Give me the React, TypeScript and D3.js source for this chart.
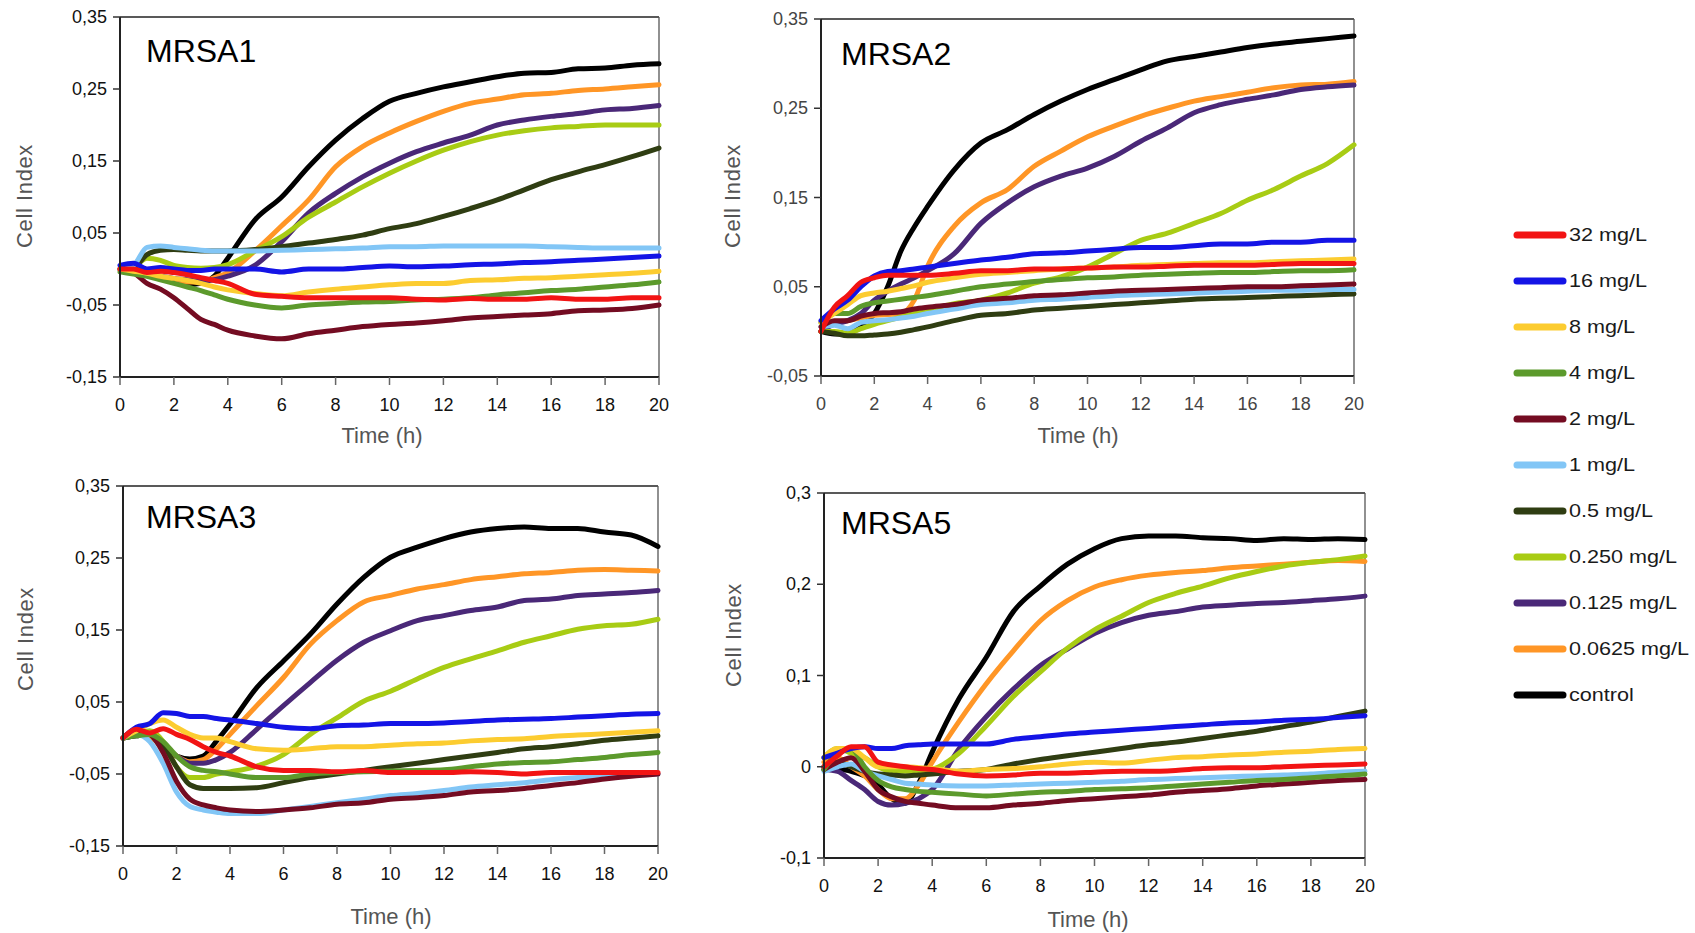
import * as d3 from 'd3'

// sampling times (h), shared by every curve
const TIME = [0, 0.5, 1, 1.5, 2, 2.5, 3, 3.5, 4, 5, 6, 7, 8, 9, 10, 11, 12, 13, 14, 15, 16, 17, 18, 19, 20]

const SERIES = ['32 mg/L', '16 mg/L', '8 mg/L', '4 mg/L', '2 mg/L', '1 mg/L', '0.5 mg/L', '0.250 mg/L', '0.125 mg/L', '0.0625 mg/L', 'control']
const COLORS = ['#f21414', '#1414e6', '#fccc30', '#5c9a2c', '#740c22', '#82c6f6', '#2f3d12', '#a8cc14', '#4a2878', '#ff9626', '#000000']

const X_TICKS = [0, 2, 4, 6, 8, 10, 12, 14, 16, 18, 20]
const Y_TICKS_A = [-0.15, -0.05, 0.05, 0.15, 0.25, 0.35]
const Y_TICKS_B = [-0.05, 0.05, 0.15, 0.25, 0.35]
const Y_TICKS_C = [-0.1, 0, 0.1, 0.2, 0.3]

// MRSA1
const M1_32 = [0, 0, -0.005, -0.003, -0.005, -0.008, -0.012, -0.016, -0.02, -0.035, -0.038, -0.04, -0.04, -0.04, -0.04, -0.042, -0.043, -0.041, -0.042, -0.042, -0.04, -0.042, -0.042, -0.04, -0.04]
const M1_16 = [0.005, 0.008, 0, 0.002, 0, -0.002, -0.002, 0, 0, 0, -0.004, 0, 0, 0.002, 0.004, 0.003, 0.004, 0.006, 0.007, 0.009, 0.01, 0.012, 0.014, 0.016, 0.018]
const M1_8 = [0, -0.003, -0.006, -0.01, -0.013, -0.016, -0.02, -0.025, -0.029, -0.034, -0.037, -0.032, -0.028, -0.025, -0.022, -0.02, -0.02, -0.016, -0.015, -0.013, -0.012, -0.01, -0.008, -0.006, -0.003]
const M1_4 = [-0.004, -0.007, -0.01, -0.015, -0.02, -0.025, -0.03, -0.036, -0.042, -0.05, -0.054, -0.05, -0.048, -0.046, -0.045, -0.043, -0.042, -0.04, -0.036, -0.033, -0.03, -0.028, -0.025, -0.022, -0.018]
const M1_2 = [0, -0.005, -0.02, -0.028, -0.04, -0.055, -0.07, -0.077, -0.085, -0.093, -0.097, -0.09, -0.085, -0.08, -0.077, -0.075, -0.072, -0.068, -0.066, -0.064, -0.062, -0.058, -0.057, -0.055, -0.05]
const M1_1 = [0, 0.005, 0.03, 0.032, 0.03, 0.028, 0.026, 0.025, 0.025, 0.025, 0.026, 0.027, 0.028, 0.029, 0.031, 0.031, 0.032, 0.032, 0.032, 0.032, 0.031, 0.03, 0.029, 0.029, 0.029]
const M1_05 = [0, 0.002, 0.02, 0.026, 0.027, 0.026, 0.025, 0.025, 0.025, 0.027, 0.031, 0.036, 0.041, 0.047, 0.056, 0.063, 0.073, 0.084, 0.096, 0.11, 0.124, 0.135, 0.145, 0.156, 0.168]
const M1_025 = [0, 0.003, 0.015, 0.012, 0.005, 0.002, 0.001, 0.002, 0.006, 0.025, 0.045, 0.072, 0.093, 0.114, 0.133, 0.15, 0.165, 0.177, 0.186, 0.192, 0.196, 0.198, 0.2, 0.2, 0.2]
const M1_0125 = [0, -0.003, -0.008, -0.01, -0.013, -0.015, -0.017, -0.015, -0.01, 0.005, 0.038, 0.078, 0.105, 0.128, 0.147, 0.163, 0.175, 0.186, 0.2, 0.207, 0.212, 0.216, 0.221, 0.223, 0.227]
const M1_00625 = [0, -0.003, -0.006, -0.01, -0.015, -0.018, -0.018, -0.012, -0.005, 0.025, 0.06, 0.096, 0.142, 0.17, 0.189, 0.205, 0.219, 0.23, 0.236, 0.242, 0.244, 0.248, 0.25, 0.253, 0.256]
const M1_CTRL = [0, -0.003, -0.008, -0.012, -0.018, -0.022, -0.02, -0.01, 0.015, 0.068, 0.1, 0.142, 0.179, 0.209, 0.233, 0.244, 0.253, 0.26, 0.267, 0.272, 0.273, 0.278, 0.279, 0.283, 0.285]

// MRSA2
const M2_32 = [0, 0.027, 0.04, 0.055, 0.06, 0.063, 0.063, 0.063, 0.063, 0.065, 0.068, 0.068, 0.07, 0.07, 0.071, 0.072, 0.072, 0.073, 0.074, 0.074, 0.074, 0.075, 0.076, 0.076, 0.076]
const M2_16 = [0.012, 0.025, 0.035, 0.05, 0.062, 0.067, 0.068, 0.07, 0.072, 0.076, 0.08, 0.083, 0.087, 0.088, 0.09, 0.092, 0.094, 0.094, 0.096, 0.098, 0.098, 0.1, 0.1, 0.102, 0.102]
const M2_8 = [0.01, 0.02, 0.03, 0.04, 0.043, 0.045, 0.048, 0.051, 0.055, 0.06, 0.064, 0.066, 0.068, 0.07, 0.071, 0.072, 0.074, 0.075, 0.076, 0.077, 0.077, 0.078, 0.079, 0.08, 0.081]
const M2_4 = [0.01, 0.02, 0.02, 0.028, 0.032, 0.034, 0.036, 0.038, 0.04, 0.045, 0.05, 0.053, 0.056, 0.058, 0.06, 0.061, 0.063, 0.064, 0.065, 0.066, 0.066, 0.067, 0.068, 0.068, 0.069]
const M2_2 = [0.005, 0.012, 0.012, 0.017, 0.02, 0.021, 0.022, 0.025, 0.027, 0.03, 0.035, 0.037, 0.04, 0.041, 0.043, 0.045, 0.046, 0.047, 0.048, 0.049, 0.05, 0.05, 0.051, 0.052, 0.053]
const M2_1 = [0.005, 0.007, 0.003, 0.01, 0.012, 0.013, 0.015, 0.017, 0.02, 0.025, 0.03, 0.032, 0.035, 0.036, 0.038, 0.04, 0.041, 0.042, 0.043, 0.044, 0.045, 0.046, 0.046, 0.047, 0.047]
const M2_05 = [0, -0.002, -0.005, -0.005, -0.004, -0.003, -0.001, 0.002, 0.005, 0.012, 0.018, 0.02, 0.024, 0.026, 0.028, 0.03, 0.032, 0.034, 0.036, 0.037, 0.038, 0.039, 0.04, 0.041, 0.042]
const M2_025 = [0, 0, -0.002, 0.003, 0.008, 0.012, 0.016, 0.02, 0.024, 0.031, 0.035, 0.043, 0.054, 0.061, 0.072, 0.087, 0.102, 0.11, 0.121, 0.132, 0.147, 0.159, 0.174, 0.188, 0.209]
const M2_0125 = [0, 0.008, 0.012, 0.02, 0.035, 0.045, 0.053, 0.06, 0.068, 0.087, 0.121, 0.144, 0.162, 0.174, 0.183, 0.196, 0.213, 0.228, 0.245, 0.254, 0.26, 0.265, 0.271, 0.274, 0.276]
const M2_00625 = [0, 0.01, 0.012, 0.015, 0.018, 0.019, 0.02, 0.035, 0.073, 0.118, 0.144, 0.159, 0.185, 0.202, 0.218, 0.23, 0.241, 0.25, 0.258, 0.263, 0.268, 0.273, 0.276, 0.277, 0.28]
const M2_CTRL = [0, -0.003, -0.002, 0.005, 0.02, 0.05, 0.09, 0.117, 0.14, 0.181, 0.211, 0.226, 0.243, 0.258, 0.271, 0.282, 0.293, 0.303, 0.308, 0.313, 0.318, 0.322, 0.325, 0.328, 0.331]

// MRSA3
const M3_32 = [0, 0.012, 0.007, 0.013, 0.005, -0.002, -0.012, -0.02, -0.025, -0.04, -0.045, -0.045, -0.047, -0.045, -0.048, -0.048, -0.048, -0.047, -0.048, -0.05, -0.048, -0.048, -0.048, -0.048, -0.048]
const M3_16 = [0, 0.015, 0.02, 0.035, 0.034, 0.03, 0.03, 0.027, 0.025, 0.02, 0.015, 0.013, 0.017, 0.018, 0.02, 0.02, 0.021, 0.023, 0.025, 0.026, 0.027, 0.029, 0.031, 0.033, 0.034]
const M3_8 = [0, 0.01, 0.02, 0.025, 0.015, 0.005, 0, 0, -0.005, -0.015, -0.017, -0.015, -0.012, -0.012, -0.01, -0.008, -0.007, -0.004, -0.002, -0.001, 0.002, 0.004, 0.006, 0.008, 0.01]
const M3_4 = [0, 0.003, 0.005, -0.005, -0.025, -0.04, -0.045, -0.047, -0.05, -0.055, -0.055, -0.05, -0.048, -0.047, -0.046, -0.045, -0.044, -0.04, -0.036, -0.034, -0.033, -0.03, -0.027, -0.023, -0.02]
const M3_2 = [0, 0.01, 0.005, -0.02, -0.06, -0.085, -0.093, -0.097, -0.1, -0.102, -0.1, -0.097, -0.092, -0.09, -0.085, -0.083, -0.08, -0.075, -0.073, -0.07, -0.066, -0.062, -0.057, -0.053, -0.05]
const M3_1 = [0, 0.005, -0.005, -0.035, -0.075, -0.095, -0.1, -0.103, -0.105, -0.105, -0.1, -0.095, -0.09, -0.085, -0.08, -0.077, -0.073, -0.068, -0.065, -0.062, -0.058, -0.055, -0.053, -0.052, -0.05]
const M3_05 = [0, 0.003, 0.005, -0.01, -0.04, -0.065, -0.07, -0.07, -0.07, -0.069, -0.062, -0.055, -0.05, -0.045, -0.04, -0.035, -0.03, -0.025, -0.02, -0.015, -0.012, -0.008, -0.003, 0, 0.003]
const M3_025 = [0, 0.005, 0.01, -0.005, -0.04, -0.055, -0.055, -0.05, -0.047, -0.039, -0.023, 0.005, 0.028, 0.051, 0.065, 0.082, 0.098, 0.11, 0.121, 0.133, 0.142, 0.151, 0.156, 0.158, 0.165]
const M3_0125 = [0, 0.003, 0.005, -0.01, -0.025, -0.035, -0.035, -0.03, -0.02, 0.012, 0.045, 0.077, 0.108, 0.133, 0.149, 0.163, 0.17, 0.177, 0.182, 0.191, 0.193, 0.198, 0.2, 0.202, 0.205]
const M3_00625 = [0, 0.005, 0, -0.01, -0.025, -0.033, -0.03, -0.015, 0.005, 0.045, 0.084, 0.13, 0.163, 0.189, 0.198, 0.207, 0.213, 0.22, 0.224, 0.228, 0.23, 0.233, 0.234, 0.233, 0.232]
const M3_CTRL = [0, 0.01, 0.005, -0.01, -0.025, -0.029, -0.025, -0.004, 0.019, 0.07, 0.107, 0.144, 0.186, 0.223, 0.251, 0.265, 0.277, 0.286, 0.291, 0.293, 0.291, 0.291, 0.286, 0.282, 0.266]

// MRSA5
const M5_32 = [0, 0.012, 0.022, 0.022, 0.005, 0.002, 0, -0.002, -0.003, -0.008, -0.01, -0.009, -0.007, -0.007, -0.006, -0.005, -0.005, -0.004, -0.002, -0.001, -0.001, 0, 0.001, 0.002, 0.003]
const M5_16 = [0.01, 0.015, 0.02, 0.022, 0.02, 0.02, 0.023, 0.024, 0.025, 0.025, 0.025, 0.03, 0.033, 0.036, 0.038, 0.04, 0.042, 0.044, 0.046, 0.048, 0.049, 0.051, 0.052, 0.054, 0.056]
const M5_8 = [0.01, 0.02, 0.02, 0.01, 0, 0, 0, -0.001, -0.002, -0.005, -0.003, -0.002, 0, 0.003, 0.005, 0.004, 0.007, 0.01, 0.011, 0.013, 0.014, 0.016, 0.017, 0.019, 0.02]
const M5_4 = [-0.003, 0.015, 0.02, 0, -0.015, -0.022, -0.025, -0.027, -0.028, -0.03, -0.032, -0.03, -0.028, -0.027, -0.025, -0.024, -0.023, -0.021, -0.019, -0.017, -0.015, -0.014, -0.012, -0.01, -0.008]
const M5_2 = [-0.003, 0.005, 0.01, -0.005, -0.025, -0.033, -0.038, -0.04, -0.042, -0.045, -0.045, -0.042, -0.04, -0.037, -0.035, -0.033, -0.031, -0.028, -0.026, -0.024, -0.021, -0.019, -0.017, -0.015, -0.014]
const M5_1 = [-0.005, 0, 0.003, -0.005, -0.01, -0.014, -0.018, -0.019, -0.02, -0.021, -0.021, -0.02, -0.019, -0.018, -0.017, -0.016, -0.014, -0.013, -0.012, -0.011, -0.01, -0.009, -0.008, -0.006, -0.005]
const M5_05 = [0, 0.005, 0, -0.005, -0.008, -0.009, -0.01, -0.009, -0.008, -0.005, -0.003, 0.003, 0.008, 0.012, 0.016, 0.02, 0.024, 0.027, 0.031, 0.035, 0.039, 0.044, 0.049, 0.055, 0.061]
const M5_025 = [0.01, 0.02, 0.015, 0.01, 0, -0.005, -0.005, -0.005, -0.003, 0.015, 0.045, 0.077, 0.104, 0.13, 0.15, 0.165, 0.18, 0.19, 0.198, 0.207, 0.214, 0.22, 0.224, 0.227, 0.231]
const M5_0125 = [-0.003, -0.005, -0.015, -0.025, -0.038, -0.042, -0.04, -0.035, -0.025, 0.02, 0.055, 0.085, 0.111, 0.129, 0.146, 0.158, 0.166, 0.17, 0.175, 0.177, 0.179, 0.18, 0.182, 0.184, 0.187]
const M5_00625 = [0.005, 0.01, 0, -0.01, -0.025, -0.035, -0.035, -0.02, 0.005, 0.05, 0.091, 0.127, 0.16, 0.182, 0.197, 0.205, 0.21, 0.213, 0.215, 0.218, 0.22, 0.222, 0.224, 0.226, 0.225]
const M5_CTRL = [0, -0.002, -0.005, -0.01, -0.02, -0.035, -0.04, -0.018, 0.016, 0.075, 0.12, 0.17, 0.198, 0.222, 0.239, 0.25, 0.253, 0.253, 0.251, 0.25, 0.248, 0.25, 0.249, 0.25, 0.249]

const PANELS = [
  {
    name: 'MRSA1',
    series: [M1_32, M1_16, M1_8, M1_4, M1_2, M1_1, M1_05, M1_025, M1_0125, M1_00625, M1_CTRL],
    yTicks: Y_TICKS_A,
    box: { left: 120, right: 659, top: 17, bottom: 377 },
    title: [146, 62], yTitle: [24, 196], xTitle: [382, 436], tickColor: '#111',
  },
  {
    name: 'MRSA2',
    series: [M2_32, M2_16, M2_8, M2_4, M2_2, M2_1, M2_05, M2_025, M2_0125, M2_00625, M2_CTRL],
    yTicks: Y_TICKS_B,
    box: { left: 821, right: 1354, top: 19, bottom: 376 },
    title: [841, 65], yTitle: [732, 196], xTitle: [1078, 436], tickColor: '#444',
  },
  {
    name: 'MRSA3',
    series: [M3_32, M3_16, M3_8, M3_4, M3_2, M3_1, M3_05, M3_025, M3_0125, M3_00625, M3_CTRL],
    yTicks: Y_TICKS_A,
    box: { left: 123, right: 658, top: 486, bottom: 846 },
    title: [146, 528], yTitle: [25, 639], xTitle: [391, 917], tickColor: '#111',
  },
  {
    name: 'MRSA5',
    series: [M5_32, M5_16, M5_8, M5_4, M5_2, M5_1, M5_05, M5_025, M5_0125, M5_00625, M5_CTRL],
    yTicks: Y_TICKS_C,
    box: { left: 824, right: 1365, top: 493, bottom: 858 },
    title: [841, 534], yTitle: [733, 635], xTitle: [1088, 920], tickColor: '#111',
  },
]

const FONT = "'Liberation Sans', Arial, sans-serif"

// decimal comma like the original
const fmt = (v: number) => (Math.abs(v) < 1e-9 ? '0' : String(+v.toFixed(2)).replace('.', ','))

function Panel({ p }: { p: typeof PANELS[number] }) {
  const { left, right, top, bottom } = p.box
  const x = d3.scaleLinear().domain([0, 20]).range([left, right])
  const yExt = d3.extent(p.yTicks) as [number, number]
  const y = d3.scaleLinear().domain(yExt).range([bottom, top])
  const line = d3.line<number>()
    .x((_, i) => x(TIME[i]))
    .y((v) => y(v))
    .curve(d3.curveMonotoneX)

  // draw control first so 32 mg/L ends up on top
  const order = d3.range(SERIES.length).reverse()

  return (
    <g>
      {/* frame */}
      <line x1={left} x2={right} y1={top} y2={top} stroke="#222" strokeWidth={1.3} />
      <line x1={right} x2={right} y1={top} y2={bottom} stroke="#555" strokeWidth={1.3} />

      {order.map((k) => (
        <path
          key={k}
          d={line(p.series[k]) ?? ''}
          fill="none"
          stroke={COLORS[k]}
          strokeWidth={5}
          strokeLinejoin="round"
          strokeLinecap="round"
        />
      ))}

      {/* axes */}
      <line x1={left} x2={left} y1={top} y2={bottom} stroke="#222" strokeWidth={2} />
      <line x1={left} x2={right} y1={bottom} y2={bottom} stroke="#222" strokeWidth={2} />

      {p.yTicks.map((t) => (
        <g key={t}>
          <line x1={left - 7} x2={left} y1={y(t)} y2={y(t)} stroke="#333" strokeWidth={1.5} />
          <text
            x={left - 13} y={y(t) + 6}
            textAnchor="end" fontSize={18} fontFamily={FONT} fill={p.tickColor}
          >
            {fmt(t)}
          </text>
        </g>
      ))}

      {X_TICKS.map((t) => (
        <g key={t}>
          <line x1={x(t)} x2={x(t)} y1={bottom} y2={bottom + 8} stroke="#666" strokeWidth={1.5} />
          <text
            x={x(t)} y={bottom + 34}
            textAnchor="middle" fontSize={18} fontFamily={FONT} fill={p.tickColor}
          >
            {t}
          </text>
        </g>
      ))}

      <text x={p.title[0]} y={p.title[1]} fontSize={32} fontFamily={FONT} fill="#000">
        {p.name}
      </text>
      <text
        x={p.xTitle[0]} y={p.xTitle[1] + 7}
        textAnchor="middle" fontSize={22} fontFamily={FONT} fill="#555"
      >
        Time (h)
      </text>
      <text
        transform={`translate(${p.yTitle[0] + 8},${p.yTitle[1]}) rotate(-90)`}
        textAnchor="middle" fontSize={22} fontFamily={FONT} fill="#555" letterSpacing={0.6}
      >
        Cell Index
      </text>
    </g>
  )
}

function Legend() {
  const rowY = d3.scaleLinear().domain([0, SERIES.length - 1]).range([235, 695])
  return (
    <g>
      {SERIES.map((s, i) => (
        <g key={s} transform={`translate(0,${rowY(i)})`}>
          <line x1={1517} x2={1563} y1={0} y2={0} stroke={COLORS[i]} strokeWidth={7} strokeLinecap="round" />
          <g transform="translate(1569,6) scale(1.2,1)">
            <text x={0} y={0} fontSize={18} fontFamily={FONT} fill="#1a1a1a">{s}</text>
          </g>
        </g>
      ))}
    </g>
  )
}

export default function App() {
  return (
    <svg
      width={1695}
      height={933}
      style={{ position: 'absolute', left: 0, top: 0, background: '#fff' }}
    >
      {PANELS.map((p) => <Panel key={p.name} p={p} />)}
      <Legend />
    </svg>
  )
}
